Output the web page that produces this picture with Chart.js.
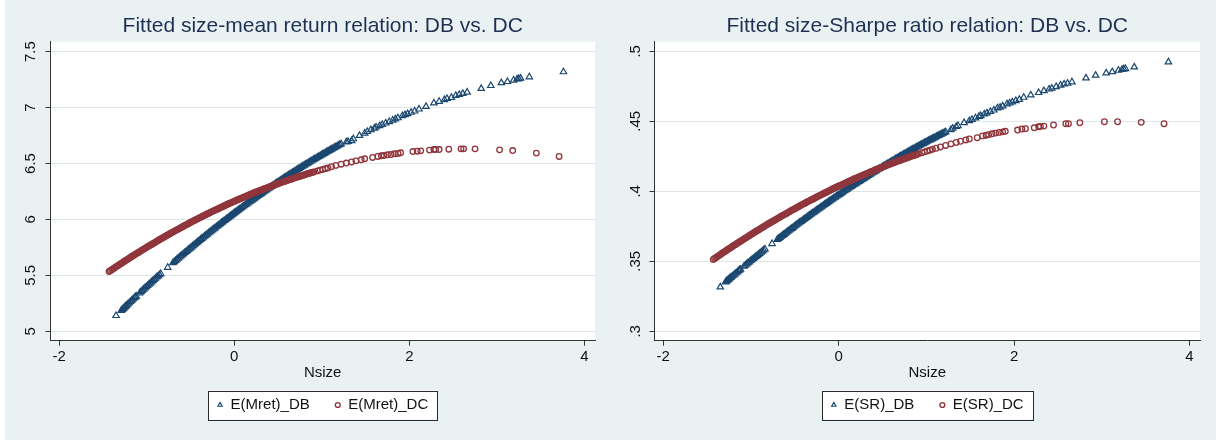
<!DOCTYPE html>
<html>
<head>
<meta charset="utf-8">
<title>Fitted size relations: DB vs. DC</title>
<script src="https://cdn.jsdelivr.net/npm/chart.js@4.4.0/dist/chart.umd.min.js"></script>
<style>
  html, body { margin: 0; padding: 0; background: #eaf1f3; }
  body { width: 1216px; height: 441px; position: relative; overflow: hidden; }
  .edge-left { position: absolute; left: 0; top: 0; width: 5px; height: 441px; background: #fff; }
  .edge-bottom { position: absolute; left: 0; top: 440px; width: 1216px; height: 1px; background: #fff; }
  .panel { position: absolute; top: 0; width: 608px; height: 441px; }
  canvas { display: block; }
</style>
</head>
<body>
<div class="edge-left"></div>
<div class="edge-bottom"></div>
<div class="panel" style="left:0"><canvas id="mretChart" width="608" height="441"></canvas></div>
<div class="panel" style="left:608px"><canvas id="srChart" width="608" height="441"></canvas></div>
<script>
// Nsize of the DB funds (same x in both panels)
const dbX = [
    -1.35,
    -1.29, -1.27, -1.25, -1.23, -1.20, -1.17, -1.14, -1.12,
    -1.08, -1.05, -1.02, -0.99, -0.96, -0.93, -0.90, -0.87, -0.84,
    -0.76,
    -0.70, -0.67, -0.64, -0.61, -0.58, -0.55, -0.52, -0.49, -0.46, -0.43,
    -0.40, -0.37, -0.34, -0.31, -0.28, -0.25, -0.22, -0.19, -0.16, -0.13,
    -0.10, -0.07, -0.04, -0.01, 0.02, 0.05, 0.08, 0.11, 0.14, 0.17,
    0.20, 0.23, 0.26, 0.29, 0.32, 0.35, 0.38, 0.41, 0.44, 0.47,
    0.50, 0.53, 0.56, 0.59, 0.62, 0.65, 0.68, 0.71, 0.74, 0.77,
    0.80, 0.83, 0.86, 0.89, 0.92, 0.95, 0.98, 1.01, 1.04, 1.07,
    1.10, 1.13, 1.16, 1.19, 1.22,
    1.28, 1.30, 1.34, 1.36, 1.43, 1.49, 1.52, 1.56, 1.60, 1.62,
    1.66, 1.69, 1.73, 1.77, 1.81, 1.84, 1.87, 1.92, 1.95, 1.98,
    2.02, 2.06, 2.11, 2.19, 2.28, 2.34, 2.40, 2.43, 2.48, 2.53,
    2.57, 2.61, 2.66, 2.82, 2.93, 3.05, 3.12, 3.19, 3.23, 3.25,
    3.27, 3.37, 3.76
];
const dbMret = [
    5.140,
    5.186, 5.201, 5.216, 5.231, 5.254, 5.277, 5.299, 5.314,
    5.343, 5.365, 5.387, 5.409, 5.430, 5.451, 5.473, 5.494, 5.515,
    5.571,
    5.612, 5.632, 5.653, 5.673, 5.693, 5.713, 5.733, 5.752, 5.772, 5.791,
    5.811, 5.830, 5.849, 5.868, 5.887, 5.906, 5.924, 5.943, 5.961, 5.980,
    5.997, 6.015, 6.033, 6.051, 6.069, 6.086, 6.104, 6.121, 6.138, 6.155,
    6.172, 6.189, 6.206, 6.222, 6.238, 6.255, 6.271, 6.287, 6.303, 6.319,
    6.335, 6.350, 6.366, 6.381, 6.396, 6.411, 6.426, 6.441, 6.456, 6.470,
    6.485, 6.499, 6.513, 6.528, 6.542, 6.555, 6.569, 6.583, 6.596, 6.610,
    6.623, 6.636, 6.649, 6.662, 6.675,
    6.692, 6.696, 6.703, 6.720, 6.750, 6.771, 6.785, 6.801, 6.815, 6.825,
    6.837, 6.848, 6.861, 6.874, 6.887, 6.897, 6.908, 6.926, 6.935, 6.944,
    6.957, 6.968, 6.986, 7.009, 7.040, 7.055, 7.070, 7.080, 7.090, 7.107,
    7.116, 7.125, 7.137, 7.170, 7.196, 7.221, 7.232, 7.245, 7.255, 7.258,
    7.262, 7.274, 7.319
];
const dbSR = [
    0.3316,
    0.3352, 0.3363, 0.3374, 0.3385, 0.3400, 0.3416, 0.3432, 0.3443,
    0.3464, 0.3480, 0.3495, 0.3511, 0.3526, 0.3541, 0.3556, 0.3572, 0.3587,
    0.3626,
    0.3656, 0.3670, 0.3685, 0.3699, 0.3714, 0.3728, 0.3742, 0.3757, 0.3771, 0.3784,
    0.3798, 0.3812, 0.3826, 0.3839, 0.3852, 0.3866, 0.3879, 0.3893, 0.3906, 0.3919,
    0.3932, 0.3945, 0.3958, 0.3971, 0.3983, 0.3996, 0.4009, 0.4021, 0.4034, 0.4046,
    0.4058, 0.4070, 0.4082, 0.4094, 0.4106, 0.4118, 0.4130, 0.4141, 0.4153, 0.4164,
    0.4176, 0.4187, 0.4198, 0.4209, 0.4220, 0.4231, 0.4242, 0.4253, 0.4264, 0.4274,
    0.4285, 0.4296, 0.4306, 0.4316, 0.4327, 0.4337, 0.4347, 0.4357, 0.4367, 0.4376,
    0.4386, 0.4396, 0.4405, 0.4415, 0.4424,
    0.4440, 0.4450, 0.4462, 0.4469, 0.4490, 0.4504, 0.4513, 0.4524, 0.4535, 0.4540,
    0.4552, 0.4559, 0.4570, 0.4580, 0.4595, 0.4600, 0.4609, 0.4624, 0.4630, 0.4638,
    0.4647, 0.4656, 0.4671, 0.4688, 0.4705, 0.4718, 0.4730, 0.4736, 0.4747, 0.4758,
    0.4766, 0.4771, 0.4781, 0.4809, 0.4829, 0.4845, 0.4854, 0.4864, 0.4870, 0.4874,
    0.4876, 0.4888, 0.4924
];
// more DB funds inside the crowded band
const dbBandX = [
    -1.28, -1.26, -1.24, -1.215, -1.185, -1.155, -1.13,
    -1.065, -1.035, -1.005, -0.975, -0.945, -0.915, -0.885, -0.855,
    -0.685, -0.655, -0.625, -0.595, -0.565, -0.535, -0.505, -0.475, -0.445, -0.415,
    -0.385, -0.355, -0.325, -0.295, -0.265, -0.235, -0.205, -0.175, -0.145, -0.115,
    -0.085, -0.055, -0.025, 0.005, 0.035, 0.065, 0.095, 0.125, 0.155, 0.185,
    0.215, 0.245, 0.275, 0.305, 0.335, 0.365, 0.395, 0.425, 0.455, 0.485,
    0.515, 0.545, 0.575, 0.605, 0.635, 0.665, 0.695, 0.725, 0.755, 0.785,
    0.815, 0.845, 0.875, 0.905, 0.935, 0.965, 0.995, 1.025, 1.055, 1.085,
    1.115, 1.145, 1.175, 1.205
];
const dbBandMret = [
    5.194, 5.209, 5.224, 5.243, 5.266, 5.288, 5.307,
    5.354, 5.376, 5.398, 5.420, 5.441, 5.462, 5.484, 5.505,
    5.622, 5.643, 5.663, 5.683, 5.703, 5.723, 5.743, 5.762, 5.782, 5.801,
    5.821, 5.840, 5.859, 5.878, 5.897, 5.915, 5.934, 5.952, 5.971, 5.989,
    6.006, 6.024, 6.042, 6.060, 6.078, 6.095, 6.113, 6.130, 6.147, 6.164,
    6.181, 6.198, 6.214, 6.230, 6.247, 6.263, 6.279, 6.295, 6.311, 6.327,
    6.343, 6.358, 6.374, 6.389, 6.404, 6.419, 6.434, 6.449, 6.463, 6.478,
    6.492, 6.506, 6.521, 6.535, 6.549, 6.562, 6.576, 6.590, 6.603, 6.617,
    6.630, 6.643, 6.656, 6.669
];
const dbBandSR = [
    0.3358, 0.3369, 0.3380, 0.3393, 0.3408, 0.3424, 0.3438,
    0.3472, 0.3488, 0.3503, 0.3519, 0.3534, 0.3549, 0.3564, 0.3580,
    0.3663, 0.3678, 0.3692, 0.3707, 0.3721, 0.3735, 0.3750, 0.3764, 0.3778, 0.3791,
    0.3805, 0.3819, 0.3833, 0.3846, 0.3859, 0.3873, 0.3886, 0.3900, 0.3913, 0.3926,
    0.3939, 0.3952, 0.3965, 0.3977, 0.3990, 0.4003, 0.4015, 0.4028, 0.4040, 0.4052,
    0.4064, 0.4076, 0.4088, 0.4100, 0.4112, 0.4124, 0.4136, 0.4147, 0.4159, 0.4170,
    0.4182, 0.4193, 0.4204, 0.4215, 0.4226, 0.4237, 0.4248, 0.4259, 0.4269, 0.4280,
    0.4291, 0.4301, 0.4311, 0.4322, 0.4332, 0.4342, 0.4352, 0.4362, 0.4372, 0.4381,
    0.4391, 0.4401, 0.4410, 0.4420
];

// Nsize of the DC funds
const dcX = [
    -1.43, -1.40, -1.37, -1.34, -1.31, -1.28, -1.25, -1.22, -1.19, -1.16,
    -1.13, -1.10, -1.07, -1.04, -1.01, -0.98, -0.95, -0.92, -0.89, -0.86,
    -0.83, -0.80, -0.77, -0.74, -0.71, -0.68, -0.65, -0.62, -0.59, -0.56,
    -0.53, -0.50, -0.47, -0.44, -0.41, -0.38, -0.35, -0.32, -0.29, -0.26,
    -0.23, -0.20, -0.17, -0.14, -0.11, -0.08, -0.05, -0.02, 0.01, 0.04,
    0.07, 0.10, 0.13, 0.16, 0.19, 0.22, 0.25, 0.28, 0.31, 0.34,
    0.37, 0.40, 0.43, 0.46, 0.49, 0.52, 0.55, 0.58, 0.61, 0.64,
    0.67, 0.70, 0.73, 0.76, 0.79, 0.82, 0.85, 0.88, 0.91,
    0.95, 0.98, 1.01, 1.04, 1.07, 1.11, 1.16, 1.22, 1.28, 1.34,
    1.39, 1.45, 1.49, 1.58, 1.64, 1.68, 1.71, 1.75, 1.79, 1.83,
    1.87, 1.90,
    2.04, 2.09, 2.13, 2.23, 2.28, 2.30, 2.34, 2.45, 2.59, 2.62,
    2.75, 3.03, 3.18, 3.45, 3.71
];
const dcMret = [
    5.534, 5.550, 5.566, 5.581, 5.597, 5.612, 5.628, 5.643, 5.658, 5.673,
    5.688, 5.703, 5.717, 5.732, 5.746, 5.760, 5.774, 5.788, 5.802, 5.816,
    5.830, 5.843, 5.857, 5.870, 5.883, 5.896, 5.909, 5.922, 5.935, 5.948,
    5.960, 5.973, 5.985, 5.997, 6.009, 6.021, 6.033, 6.045, 6.056, 6.068,
    6.079, 6.090, 6.101, 6.112, 6.123, 6.134, 6.145, 6.155, 6.166, 6.176,
    6.186, 6.196, 6.206, 6.216, 6.226, 6.236, 6.245, 6.254, 6.264, 6.273,
    6.282, 6.291, 6.300, 6.308, 6.317, 6.325, 6.334, 6.342, 6.350, 6.358,
    6.366, 6.374, 6.381, 6.389, 6.396, 6.404, 6.411, 6.418, 6.425,
    6.434, 6.441, 6.447, 6.454, 6.460, 6.471, 6.483, 6.494, 6.504, 6.514,
    6.524, 6.533, 6.542, 6.554, 6.563, 6.569, 6.571, 6.578, 6.580, 6.587,
    6.590, 6.596,
    6.607, 6.610, 6.613, 6.620, 6.625, 6.625, 6.625, 6.628, 6.631, 6.631,
    6.631, 6.622, 6.616, 6.593, 6.563
];
const dcSR = [
    0.3513, 0.3526, 0.3539, 0.3552, 0.3565, 0.3577, 0.3590, 0.3602, 0.3615, 0.3627,
    0.3639, 0.3651, 0.3663, 0.3675, 0.3687, 0.3699, 0.3711, 0.3722, 0.3734, 0.3745,
    0.3757, 0.3768, 0.3779, 0.3790, 0.3801, 0.3812, 0.3823, 0.3834, 0.3844, 0.3855,
    0.3866, 0.3876, 0.3886, 0.3897, 0.3907, 0.3917, 0.3927, 0.3937, 0.3946, 0.3956,
    0.3966, 0.3975, 0.3985, 0.3994, 0.4003, 0.4013, 0.4022, 0.4031, 0.4040, 0.4048,
    0.4057, 0.4066, 0.4075, 0.4083, 0.4092, 0.4100, 0.4108, 0.4116, 0.4124, 0.4132,
    0.4140, 0.4148, 0.4156, 0.4163, 0.4171, 0.4178, 0.4186, 0.4193, 0.4200, 0.4207,
    0.4215, 0.4221, 0.4228, 0.4235, 0.4242, 0.4248, 0.4255, 0.4261, 0.4268,
    0.4276, 0.4282, 0.4288, 0.4294, 0.4300, 0.4308, 0.4317, 0.4328, 0.4339, 0.4349,
    0.4358, 0.4367, 0.4374, 0.4383, 0.4396, 0.4401, 0.4405, 0.4411, 0.4416, 0.4421,
    0.4425, 0.4429,
    0.4438, 0.4445, 0.4447, 0.4454, 0.4461, 0.4464, 0.4466, 0.4474, 0.4483, 0.4483,
    0.4490, 0.4497, 0.4497, 0.4493, 0.4483
];
// more DC funds inside the crowded band
const dcBandX = [
    -1.415, -1.385, -1.355, -1.325, -1.295, -1.265, -1.235, -1.205, -1.175, -1.145,
    -1.115, -1.085, -1.055, -1.025, -0.995, -0.965, -0.935, -0.905, -0.875, -0.845,
    -0.815, -0.785, -0.755, -0.725, -0.695, -0.665, -0.635, -0.605, -0.575, -0.545,
    -0.515, -0.485, -0.455, -0.425, -0.395, -0.365, -0.335, -0.305, -0.275, -0.245,
    -0.215, -0.185, -0.155, -0.125, -0.095, -0.065, -0.035, -0.005,
    0.025, 0.055, 0.085, 0.115, 0.145, 0.175, 0.205, 0.235, 0.265, 0.295,
    0.325, 0.355, 0.385, 0.415, 0.445, 0.475, 0.505, 0.535, 0.565, 0.595,
    0.625, 0.655, 0.685, 0.715, 0.745, 0.775, 0.805, 0.835, 0.865, 0.895
];
const dcBandMret = [
    5.542, 5.558, 5.574, 5.589, 5.605, 5.620, 5.636, 5.651, 5.666, 5.681,
    5.696, 5.710, 5.725, 5.739, 5.753, 5.767, 5.781, 5.795, 5.809, 5.823,
    5.837, 5.850, 5.864, 5.877, 5.890, 5.903, 5.916, 5.929, 5.942, 5.954,
    5.967, 5.979, 5.991, 6.003, 6.015, 6.027, 6.039, 6.051, 6.062, 6.074,
    6.085, 6.096, 6.107, 6.118, 6.129, 6.140, 6.150, 6.161,
    6.171, 6.181, 6.191, 6.201, 6.211, 6.221, 6.231, 6.241, 6.250, 6.259,
    6.269, 6.278, 6.287, 6.296, 6.304, 6.313, 6.321, 6.330, 6.338, 6.346,
    6.354, 6.362, 6.370, 6.378, 6.385, 6.393, 6.400, 6.408, 6.415, 6.422
];
const dcBandSR = [
    0.3520, 0.3533, 0.3546, 0.3559, 0.3571, 0.3584, 0.3596, 0.3609, 0.3621, 0.3633,
    0.3645, 0.3657, 0.3669, 0.3681, 0.3693, 0.3705, 0.3717, 0.3728, 0.3740, 0.3751,
    0.3763, 0.3774, 0.3785, 0.3796, 0.3807, 0.3818, 0.3829, 0.3839, 0.3850, 0.3861,
    0.3871, 0.3881, 0.3892, 0.3902, 0.3912, 0.3922, 0.3932, 0.3942, 0.3951, 0.3961,
    0.3971, 0.3980, 0.3990, 0.3999, 0.4008, 0.4018, 0.4027, 0.4036,
    0.4044, 0.4053, 0.4062, 0.4071, 0.4079, 0.4088, 0.4096, 0.4104, 0.4112, 0.4120,
    0.4128, 0.4136, 0.4144, 0.4152, 0.4160, 0.4167, 0.4175, 0.4182, 0.4190, 0.4197,
    0.4204, 0.4211, 0.4218, 0.4225, 0.4232, 0.4239, 0.4245, 0.4252, 0.4258, 0.4265
];

// axis ticks
const xTicks = [-2, 0, 2, 4];
const mretTicks = [5, 5.5, 6, 6.5, 7, 7.5];
const mretTickLabels = ['5', '5.5', '6', '6.5', '7', '7.5'];
const srTicks = [0.3, 0.35, 0.4, 0.45, 0.5];
const srTickLabels = ['.3', '.35', '.4', '.45', '.5'];

const navy = '#1a476f';
const maroon = '#90353b';
const ink = '#111111';
const axisInk = '#333333';

Chart.defaults.font.family = '"Liberation Sans", Arial, sans-serif';
Chart.defaults.color = ink;

// white plot region like stata
const plotBackground = {
    id: 'plotBackground',
    beforeDraw(chart) {
        const a = chart.chartArea;
        const ctx = chart.ctx;
        ctx.save();
        ctx.fillStyle = '#ffffff';
        ctx.fillRect(a.left, a.top, a.right - a.left, a.bottom - a.top);
        ctx.restore();
    }
};

// framed legend box
const legendFrame = {
    id: 'legendFrame',
    afterDraw(chart) {
        const boxes = chart.legend.legendHitBoxes;
        if (!boxes || !boxes.length) return;
        const left = Math.min(...boxes.map(b => b.left)) - 9;
        const right = Math.max(...boxes.map(b => b.left + b.width)) + 9;
        const mid = boxes[0].top + boxes[0].height / 2;
        const top = mid - 14.5;
        const ctx = chart.ctx;
        ctx.save();
        ctx.globalCompositeOperation = 'destination-over';
        ctx.fillStyle = '#ffffff';
        ctx.fillRect(left, top, right - left, 29);
        ctx.globalCompositeOperation = 'source-over';
        ctx.strokeStyle = '#2b2b2b';
        ctx.lineWidth = 1;
        ctx.strokeRect(Math.round(left) + 0.5, Math.round(top) + 0.5, Math.round(right - left), 29);
        ctx.restore();
    }
};

function toPoints(xs, ys) {
    return xs.map((x, i) => ({x: x, y: ys[i]}));
}

function buildChart(canvasId, o) {
    const config = {
        type: 'scatter',
        data: {
            datasets: [{
                label: o.labels[0],
                data: toPoints(dbX, o.db).concat(toPoints(dbBandX, o.dbBand)),
                pointStyle: 'triangle',
                pointRadius: 3.7,
                pointBorderWidth: 1.2,
                pointBorderColor: navy,
                pointBackgroundColor: 'rgba(0,0,0,0)',
                borderColor: navy,
                backgroundColor: 'rgba(0,0,0,0)',
                borderWidth: 1.2,
                order: 1
            },
            {
                label: o.labels[1],
                data: toPoints(dcX, o.dc).concat(toPoints(dcBandX, o.dcBand)),
                pointStyle: 'circle',
                pointRadius: 2.8,
                pointBorderWidth: 1.3,
                pointBorderColor: maroon,
                pointBackgroundColor: 'rgba(0,0,0,0)',
                borderColor: maroon,
                backgroundColor: 'rgba(0,0,0,0)',
                borderWidth: 1.3,
                order: 0
            }]
        },
        options: {
            responsive: false,
            animation: false,
            devicePixelRatio: 1,
            events: [],
            layout: {
                padding: {left: 0, right: o.padRight, top: 0, bottom: 18.5}
            },
            plugins: {
                title: {
                    display: true,
                    text: o.title,
                    fullSize: false,
                    color: '#1f3153',
                    font: {size: 21, weight: 'normal'},
                    padding: {top: 13.4, bottom: 3.1}
                },
                legend: {
                    position: 'bottom',
                    fullSize: false,
                    labels: {
                        usePointStyle: true,
                        boxWidth: 6,
                        boxHeight: 3.5,
                        padding: 25,
                        color: ink,
                        font: {size: 15},
                        sort: (a, b) => a.datasetIndex - b.datasetIndex
                    }
                },
                tooltip: {enabled: false}
            },
            scales: {
                x: {
                    type: 'linear',
                    min: -2.1,
                    max: 4.12,
                    afterBuildTicks: s => { s.ticks = xTicks.map(v => ({value: v})); },
                    afterFit: s => { s.height = 31.8; },
                    ticks: {
                        autoSkip: false,
                        maxRotation: 0,
                        padding: 2,
                        color: ink,
                        font: {size: 15},
                        callback: v => String(v)
                    },
                    grid: {drawOnChartArea: false, tickLength: 5, tickColor: axisInk},
                    border: {color: axisInk, width: 1},
                    title: {
                        display: true,
                        text: 'Nsize',
                        color: ink,
                        font: {size: 15},
                        padding: {top: 0, bottom: -9.2}
                    }
                },
                y: {
                    type: 'linear',
                    min: o.yMin,
                    max: o.yMax,
                    afterBuildTicks: s => { s.ticks = o.yTicks.map(v => ({value: v})); },
                    afterFit: s => { s.width = o.yWidth; },
                    ticks: {
                        autoSkip: false,
                        minRotation: 90,
                        maxRotation: 90,
                        crossAlign: 'center',
                        padding: o.yPad,
                        color: ink,
                        font: {size: 15},
                        callback: (v, i) => o.yLabels[i]
                    },
                    grid: {color: '#dde7ea', tickLength: 5, tickColor: axisInk},
                    border: {color: axisInk, width: 1}
                }
            }
        },
        plugins: [plotBackground, legendFrame]
    };
    return new Chart(document.getElementById(canvasId).getContext('2d'), config);
}

var mretChart = buildChart('mretChart', {
    title: 'Fitted size-mean return relation: DB vs. DC',
    labels: ['E(Mret)_DB', 'E(Mret)_DC'],
    db: dbMret,
    dbBand: dbBandMret,
    dc: dcMret,
    dcBand: dcBandMret,
    yMin: 4.916,
    yMax: 7.589,
    yTicks: mretTicks,
    yLabels: mretTickLabels,
    yWidth: 50.4,
    yPad: 4,
    padRight: 13
});

var srChart = buildChart('srChart', {
    title: 'Fitted size-Sharpe ratio relation: DB vs. DC',
    labels: ['E(SR)_DB', 'E(SR)_DC'],
    db: dbSR,
    dbBand: dbBandSR,
    dc: dcSR,
    dcBand: dcBandSR,
    yMin: 0.2933,
    yMax: 0.5069,
    yTicks: srTicks,
    yLabels: srTickLabels,
    yWidth: 46.5,
    yPad: 3,
    padRight: 16
});
</script>
</body>
</html>
